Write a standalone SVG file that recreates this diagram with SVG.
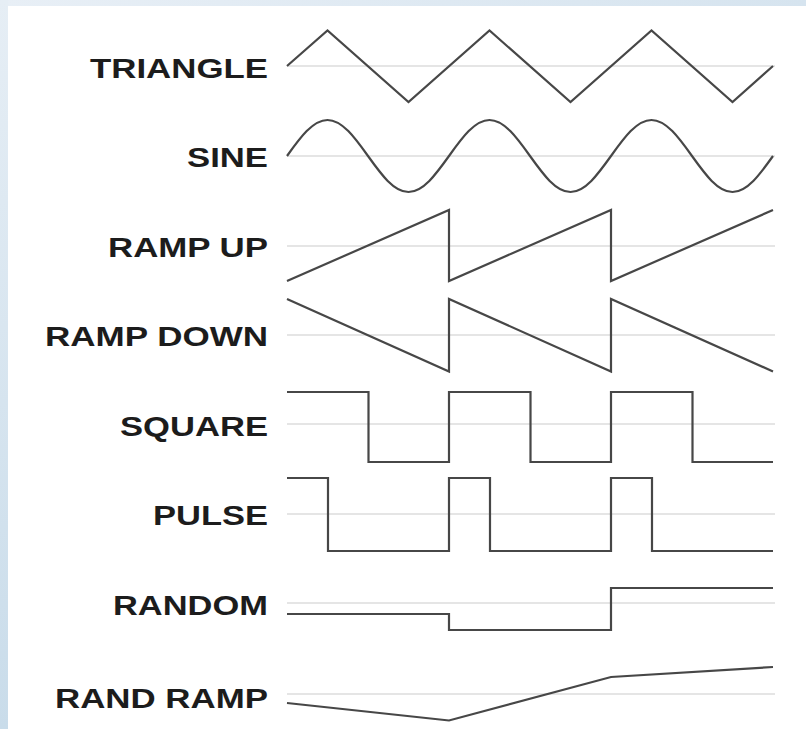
<svg xmlns="http://www.w3.org/2000/svg" width="806" height="729" viewBox="0 0 806 729">
  <defs>
    <linearGradient id="frameLeft" x1="0" y1="0" x2="0" y2="1">
      <stop offset="0" stop-color="#e6eef5"/>
      <stop offset="1" stop-color="#c9dcea"/>
    </linearGradient>
    <linearGradient id="frameTop" x1="0" y1="0" x2="1" y2="0">
      <stop offset="0" stop-color="#e8eff6"/>
      <stop offset="1" stop-color="#d6e4ef"/>
    </linearGradient>
  </defs>
  <style>
    .label { font-family: "Liberation Sans", Arial, sans-serif; font-size: 27px; font-weight: bold; fill: #1c1c1c; text-anchor: end; }
    .axis { stroke: #dcdcdc; stroke-width: 1.6; fill: none; }
    .wave { stroke: #474747; stroke-width: 2.2; fill: none; stroke-linejoin: miter; stroke-linecap: butt; }
  </style>

  <!-- page and frame -->
  <rect x="0" y="0" width="806" height="729" fill="#ffffff"/>
  <rect x="0" y="0" width="806" height="6" fill="url(#frameTop)"/>
  <rect x="0" y="0" width="8" height="729" fill="url(#frameLeft)"/>

  <!-- zero lines -->
  <g id="axes">
    <line class="axis" x1="287" y1="66" x2="775" y2="66"/>
    <line class="axis" x1="287" y1="156" x2="775" y2="156"/>
    <line class="axis" x1="287" y1="246" x2="775" y2="246"/>
    <line class="axis" x1="287" y1="335" x2="775" y2="335"/>
    <line class="axis" x1="287" y1="424" x2="775" y2="424"/>
    <line class="axis" x1="287" y1="514" x2="775" y2="514"/>
    <line class="axis" x1="287" y1="603" x2="775" y2="603"/>
    <line class="axis" x1="287" y1="694" x2="775" y2="694"/>
  </g>

  <g id="triangle">
    <text class="label" x="268" y="78" textLength="178" lengthAdjust="spacingAndGlyphs">TRIANGLE</text>
    <polyline class="wave" points="287,66 327.5,30.5 408.5,102 489.5,30.5 570.5,102 651.5,30.5 732.5,102 773,66"/>
  </g>

  <g id="sine">
    <text class="label" x="268" y="167" textLength="81" lengthAdjust="spacingAndGlyphs">SINE</text>
    <path class="wave" d="M287,156
      c13.21,-18.44 25.84,-36 40.5,-36 c14.66,0 27.29,17.56 40.5,36 c13.21,18.44 25.84,36 40.5,36 c14.66,0 27.29,-17.56 40.5,-36
      c13.21,-18.44 25.84,-36 40.5,-36 c14.66,0 27.29,17.56 40.5,36 c13.21,18.44 25.84,36 40.5,36 c14.66,0 27.29,-17.56 40.5,-36
      c13.21,-18.44 25.84,-36 40.5,-36 c14.66,0 27.29,17.56 40.5,36 c13.21,18.44 25.84,36 40.5,36 c14.66,0 27.29,-17.56 40.5,-36"/>
  </g>

  <g id="ramp-up">
    <text class="label" x="268" y="257" textLength="160" lengthAdjust="spacingAndGlyphs">RAMP UP</text>
    <polyline class="wave" points="287,281 449,210 449,281 611,210 611,281 773,210"/>
  </g>

  <g id="ramp-down">
    <text class="label" x="268" y="346" textLength="223" lengthAdjust="spacingAndGlyphs">RAMP DOWN</text>
    <polyline class="wave" points="287,299 449,371.5 449,299 611,371.5 611,299 773,371.5"/>
  </g>

  <g id="square">
    <text class="label" x="268" y="436" textLength="148" lengthAdjust="spacingAndGlyphs">SQUARE</text>
    <polyline class="wave" points="287,392 368.5,392 368.5,462 449,462 449,392 530.5,392 530.5,462 611,462 611,392 692.5,392 692.5,462 773,462"/>
  </g>

  <g id="pulse">
    <text class="label" x="268" y="525" textLength="115" lengthAdjust="spacingAndGlyphs">PULSE</text>
    <polyline class="wave" points="287,478 328,478 328,551 449,551 449,478 490,478 490,551 611,551 611,478 652,478 652,551 773,551"/>
  </g>

  <g id="random">
    <text class="label" x="268" y="615" textLength="155" lengthAdjust="spacingAndGlyphs">RANDOM</text>
    <polyline class="wave" points="287,614 449,614 449,630 611,630 611,588 773,588"/>
  </g>

  <g id="rand-ramp">
    <text class="label" x="268" y="708" textLength="213" lengthAdjust="spacingAndGlyphs">RAND RAMP</text>
    <polyline class="wave" points="287,703 449,720.5 611,677 773,667"/>
  </g>
</svg>
